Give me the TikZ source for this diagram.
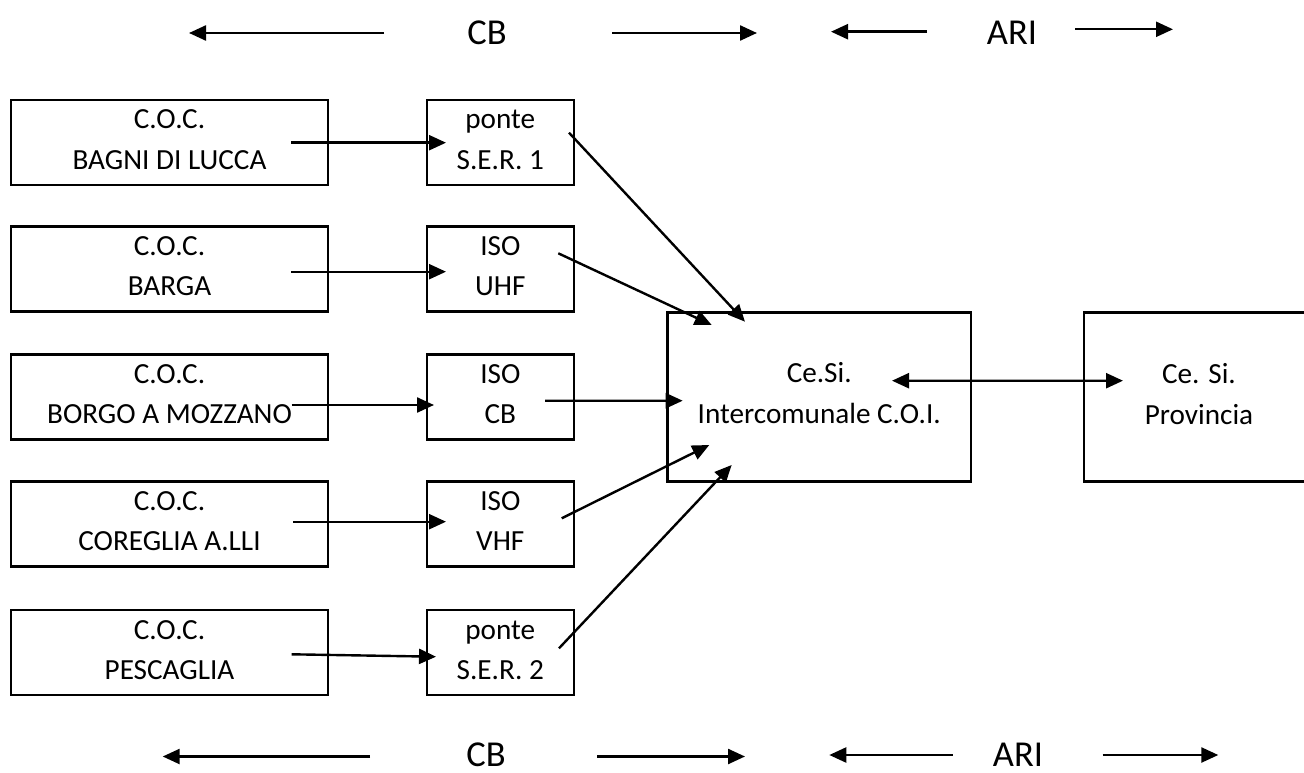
\documentclass[tikz,border=0pt]{standalone}
\usepackage{fontspec}
\setmainfont{Carlito}
\usetikzlibrary{arrows.meta,calc}
\tikzset{
  box/.style={draw=black, line width=2.6pt, rectangle, inner sep=0pt},
  lbox/.style={box, minimum width=317pt, minimum height=85pt},
  mbox/.style={box, minimum width=147pt, minimum height=85pt},
  bigbox/.style={box, minimum height=169pt},
  txt/.style={inner sep=0pt, anchor=base, font=\fontsize{29.2pt}{34pt}\selectfont},
  big/.style={inner sep=0pt, anchor=base, font=\fontsize{36.5pt}{40pt}\selectfont},
  arr/.style={line width=2.4pt, -{Triangle[length=17pt,width=15pt]}},
  darr/.style={line width=2.4pt, {Triangle[length=17pt,width=15pt]}-{Triangle[length=17pt,width=15pt]}}
}
\newcommand{\twoline}[4]{%
  \node[txt] (#1a) at ($(#2.center)+(0,-13.5)$) {#3};
  \node[txt] (#1b) at ($(#2.center)+(0,26.5)$) {#4};}
\begin{document}
\begin{tikzpicture}[x=1pt,y=-1pt]
\useasboundingbox (0,0) rectangle (1304,773);
\clip (0,0) rectangle (1304,773);
% left boxes
\node[lbox] (L1) at (169.5,142.5) {};
\node[lbox] (L2) at (169.5,269) {};
\node[lbox] (L3) at (169.5,397) {};
\node[lbox] (L4) at (169.5,524) {};
\node[lbox] (L5) at (169.5,652.5) {};
% middle boxes
\node[mbox] (M1) at (500.3,142.5) {};
\node[mbox] (M2) at (500.3,269) {};
\node[mbox] (M3) at (500.3,397) {};
\node[mbox] (M4) at (500.3,524) {};
\node[mbox] (M5) at (500.3,652.5) {};
% centre boxes
\node[bigbox, minimum width=303.5pt] (C) at (819.25,397.1) {};
\node[bigbox, minimum width=230pt] (P) at (1199,397) {};
% texts
\twoline{l1}{L1}{C.O.C.}{BAGNI DI LUCCA}
\twoline{l2}{L2}{C.O.C.}{BARGA}
\twoline{l3}{L3}{C.O.C.}{BORGO A MOZZANO}
\twoline{l4}{L4}{C.O.C.}{COREGLIA A.LLI}
\twoline{l5}{L5}{C.O.C.}{PESCAGLIA}
\twoline{m1}{M1}{ponte}{S.E.R. 1}
\twoline{m2}{M2}{ISO}{UHF}
\twoline{m3}{M3}{ISO}{CB}
\twoline{m4}{M4}{ISO}{VHF}
\twoline{m5}{M5}{ponte}{S.E.R. 2}
\node[txt] (ca) at ($(C.center)+(0,-14.8)$) {Ce.Si.};
\node[txt] (cb) at ($(C.center)+(0,26.2)$) {Intercomunale C.O.I.};
\node[txt] (pa) at ($(P.center)+(0,-13.7)$) {Ce. Si.};
\node[txt] (pb) at ($(P.center)+(0,27)$) {Provincia};
% left -> middle
\draw[arr] ($(L1.center)+(121.5,0.2)$) -- ($(M1.center)+(-54.3,0.2)$);
\draw[arr] ($(L2.center)+(121.5,2.7)$) -- ($(M2.center)+(-54.3,2.7)$);
\draw[arr] ($(L3.center)+(122.2,8)$) -- ($(M3.center)+(-66.3,8)$);
\draw[arr] ($(L4.center)+(123.8,-2.3)$) -- ($(M4.center)+(-54.3,-2.3)$);
\draw[arr] ($(L5.center)+(122.2,1.8)$) -- ($(M5.center)+(-64.3,4.2)$);
% middle -> centre
\draw[arr] ($(M1.center)+(68.7,-9.8)$) -- ($(C.center)+(-74.25,-75.4)$);
\draw[arr] ($(M2.center)+(58,-15.7)$) -- ($(C.center)+(-107.55,-72.1)$);
\draw[arr] ($(M3.center)+(44.7,3.7)$) -- ($(C.center)+(-136.55,3.6)$);
\draw[arr] ($(M4.center)+(61.4,-5.7)$) -- ($(C.center)+(-109.95,47.9)$);
\draw[arr] ($(M5.center)+(58.7,-4.2)$) -- ($(C.center)+(-87.55,67.9)$);
% centre <-> provincia
\draw[darr] ($(C.center)+(72.75,-16.4)$) -- ($(P.center)+(-76,-16.3)$);
% top row
\node[big] (tcb) at (487,45) {CB};
\node[big] (tari) at (1012,45) {ARI};
\coordinate (t1s) at (384,33);  \coordinate (t1e) at (189,33);
\coordinate (t2s) at (612,33);  \coordinate (t2e) at (757,33);
\coordinate (t3s) at (927,31.7); \coordinate (t3e) at (831,31.7);
\coordinate (t4s) at (1075,29.3); \coordinate (t4e) at (1173,29.3);
\draw[arr] (t1s) -- (t1e);
\draw[arr] (t2s) -- (t2e);
\draw[arr] (t3s) -- (t3e);
\draw[arr] (t4s) -- (t4e);
% bottom row
\node[big] (bcb) at (486,766) {CB};
\node[big] (bari) at (1018,766) {ARI};
\coordinate (b1s) at (370,756.5); \coordinate (b1e) at (162.7,756.5);
\coordinate (b2s) at (597,756.5); \coordinate (b2e) at (745,756.5);
\coordinate (b3s) at (952.7,755); \coordinate (b3e) at (829.3,755);
\coordinate (b4s) at (1102.7,755); \coordinate (b4e) at (1218.3,755);
\draw[arr] (b1s) -- (b1e);
\draw[arr] (b2s) -- (b2e);
\draw[arr] (b3s) -- (b3e);
\draw[arr] (b4s) -- (b4e);
\end{tikzpicture}
\end{document}
